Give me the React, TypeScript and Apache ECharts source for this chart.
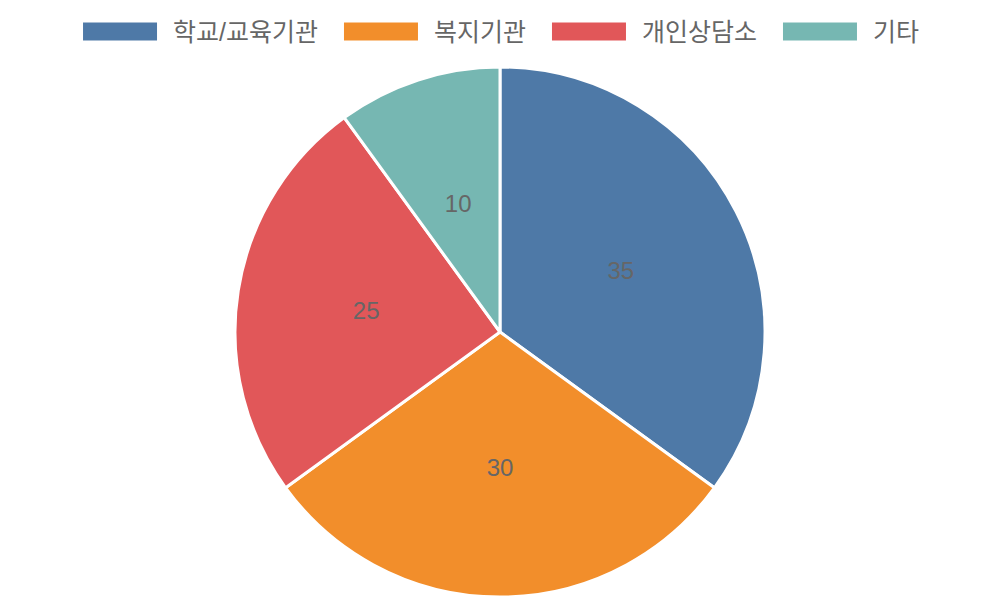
import React, { useEffect, useRef } from 'react';
import * as echarts from 'echarts';

const categories = ['학교/교육기관', '복지기관', '개인상담소', '기타'];
const values = [35, 30, 25, 10];
const colors = ['#4e79a7', '#f28e2b', '#e15759', '#76b7b2'];

const App: React.FC = () => {
  const chartRef = useRef<HTMLDivElement>(null);

  useEffect(() => {
    document.body.style.margin = '0';
    if (!chartRef.current) return;
    const chart = echarts.init(chartRef.current, undefined, { renderer: 'svg' });
    chart.setOption({
      animation: false,
      color: colors,
      textStyle: { fontFamily: '"Liberation Sans", "Noto Sans CJK KR", sans-serif' },
      legend: {
        top: 14,
        left: 'center',
        itemWidth: 76,
        itemHeight: 20,
        itemGap: 24,
        icon: 'rect',
        textStyle: { fontSize: 25, color: '#666', padding: [0, 0, 0, 10] },
        data: categories,
      },
      series: [
        {
          name: '분포',
          type: 'pie',
          center: [500, 332],
          radius: 265,
          startAngle: 90,
          label: {
            show: true,
            position: 'inside',
            formatter: '{c}',
            fontSize: 24,
            color: '#666',
          },
          labelLine: { show: false },
          itemStyle: { borderColor: '#fff', borderWidth: 3 },
          data: categories.map((name, i) => ({ name, value: values[i] })),
        },
      ],
    });
    return () => chart.dispose();
  }, []);

  return <div ref={chartRef} style={{ width: '1000px', height: '600px' }} />;
};

export default App;
